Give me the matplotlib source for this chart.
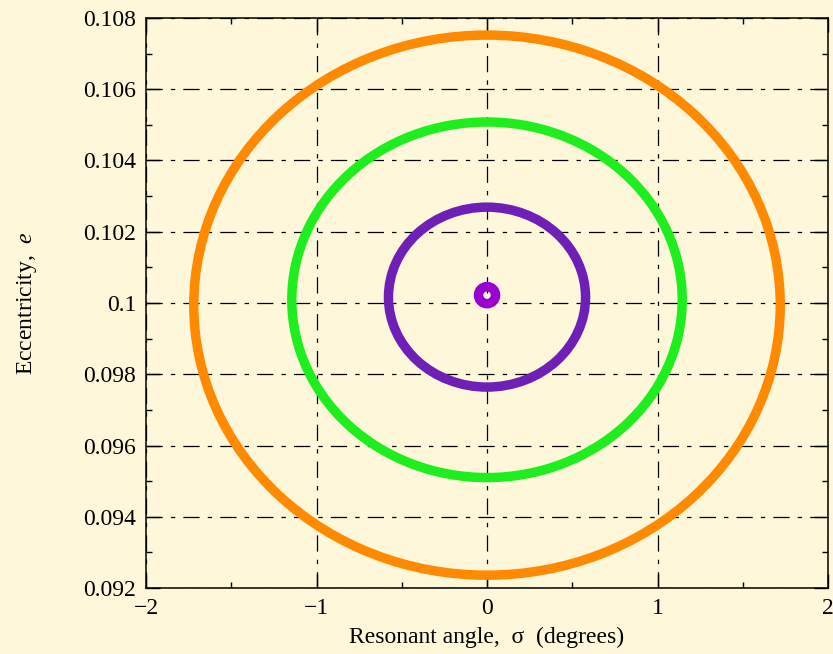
import matplotlib
matplotlib.use("Agg")
import matplotlib.pyplot as plt
from matplotlib.patches import Ellipse

# Data: each closed trajectory (libration cycle) as centre and half-amplitudes
names = ["outer", "middle", "inner", "core"]
sigma_center = [0.0, 0.0, 0.0, 0.0]
sigma_amp = [1.72, 1.145, 0.578, 0.05]
e_center = [0.09994, 0.10009, 0.100165, 0.10022]
e_amp = [0.00758, 0.00499, 0.002525, 0.00024]
colors = ["#FF8A00", "#1EEE1E", "#6E1FB6", "#9A00D0"]

xticks = [-2, -1, 0, 1, 2]
xticklabels = ["\u22122", "\u22121", "0", "1", "2"]
yticks = [0.092, 0.094, 0.096, 0.098, 0.100, 0.102, 0.104, 0.106, 0.108]
yticklabels = ["0.092", "0.094", "0.096", "0.098", "0.1", "0.102", "0.104", "0.106", "0.108"]

plt.rcParams["font.family"] = ["Liberation Serif", "DejaVu Serif"]
plt.rcParams["mathtext.fontset"] = "custom"
plt.rcParams["mathtext.rm"] = "Liberation Serif"
plt.rcParams["mathtext.it"] = "Liberation Serif:italic"

bg = "#FFF7D9"
fig = plt.figure(figsize=(8.33, 6.54), dpi=100, facecolor=bg)
ax = fig.add_axes([0.1753, 0.1009, 0.8187, 0.8716])
ax.set_facecolor(bg)

for xc, xa, yc, ya, c in zip(sigma_center, sigma_amp, e_center, e_amp, colors):
    ax.add_patch(Ellipse((xc, yc), 2 * xa, 2 * ya, fill=False, edgecolor=c,
                         linewidth=6.8, zorder=3))

ax.set_xlim(-2, 2)
ax.set_ylim(0.092, 0.108)
ax.set_xticks(xticks)
ax.set_xticklabels(xticklabels)
ax.set_yticks(yticks)
ax.set_yticklabels(yticklabels)
ax.set_xticks([-1.5, -0.5, 0.5, 1.5], minor=True)
ax.set_yticks([0.093, 0.095, 0.097, 0.099, 0.101, 0.103, 0.105, 0.107], minor=True)

ax.grid(True, which="major", color="black", linewidth=0.9,
        linestyle=(0, (13, 6.5, 3.5, 6.5)), zorder=1)
ax.set_axisbelow(True)

ax.tick_params(which="both", direction="in", top=True, right=True,
               labelsize=17, width=1, pad=7)
ax.tick_params(which="major", length=10)
ax.tick_params(which="minor", length=4)
for s in ax.spines.values():
    s.set_linewidth(1.1)
    s.set_zorder(5)

ax.set_xlabel("Resonant angle,  \u03c3  (degrees)", fontsize=17, labelpad=6)
ax.set_ylabel("Eccentricity,  $e$", fontsize=17, labelpad=32)

fig.savefig("out.png", dpi=100, facecolor=bg)
